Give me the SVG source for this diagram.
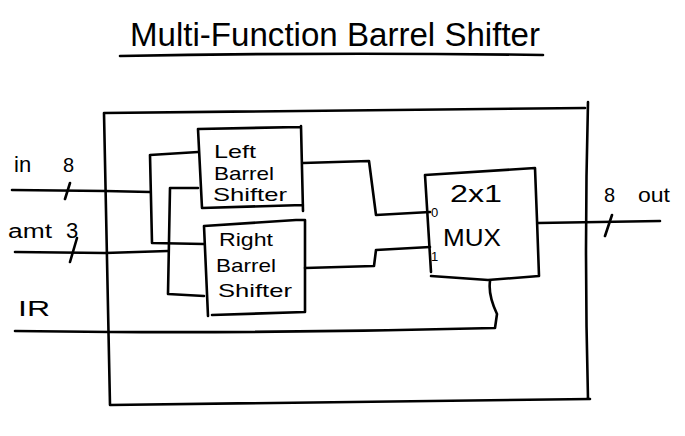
<svg xmlns="http://www.w3.org/2000/svg" width="685" height="436" viewBox="0 0 685 436">
<style>
.ln{fill:none;stroke:#000;stroke-width:2.6;stroke-linecap:round;stroke-linejoin:round}
.t{font-family:"Liberation Sans","DejaVu Sans",sans-serif;fill:#000}
.bt{font-size:19px}
.lb{font-size:22px}
.sm{font-size:13px}
</style>
<rect width="685" height="436" fill="#fff"/>
<g id="title">
<text class="t" x="130" y="46" font-size="34" textLength="410" lengthAdjust="spacingAndGlyphs">Multi-Function Barrel Shifter</text>
<path class="ln" d="M120 56 Q330 52 543 55"/>
</g>
<g id="frame">
<path class="ln" d="M104 113 L585 108 M104 113 L110 405 M588 102 Q584 250 588 399 M110 405 L590 399"/>
</g>
<g id="left-shifter">
<path class="ln" d="M198 129 L300 127 M198 129 L202 208 L303 205 M301 126 L303 211"/>
<text class="t bt" x="214" y="158" textLength="42" lengthAdjust="spacingAndGlyphs">Left</text>
<text class="t bt" x="214" y="180" textLength="60" lengthAdjust="spacingAndGlyphs">Barrel</text>
<text class="t bt" x="213" y="201" textLength="74" lengthAdjust="spacingAndGlyphs">Shifter</text>
</g>
<g id="right-shifter">
<path class="ln" d="M204 226 L296 220 L305 220 L305 312 L212 315 M204 226 L208 316"/>
<text class="t bt" x="219" y="246" textLength="54" lengthAdjust="spacingAndGlyphs">Right</text>
<text class="t bt" x="216" y="272" textLength="60" lengthAdjust="spacingAndGlyphs">Barrel</text>
<text class="t bt" x="218" y="297" textLength="74" lengthAdjust="spacingAndGlyphs">Shifter</text>
</g>
<g id="mux">
<path class="ln" d="M425 175 L535 168 L537 220 L539 276 L488 280 L431 276 M425 175 L431 272"/>
<text class="t" x="450" y="202" font-size="24" textLength="52" lengthAdjust="spacingAndGlyphs">2x1</text>
<text class="t" x="443" y="246" font-size="24" textLength="58" lengthAdjust="spacingAndGlyphs">MUX</text>
<text class="t sm" x="431" y="217">0</text>
<text class="t sm" x="431" y="261">1</text>
</g>
<g id="connectors">
<path class="ln" d="M12 190 L105 191 L150 192"/>
<path class="ln" d="M150 155 L198 152 M150 155 L152 243 L204 244"/>
<path class="ln" d="M15 252 L105 253 L168 251"/>
<path class="ln" d="M198 188 L170 188 L168 294 L204 296"/>
<path class="ln" d="M303 163 L369 161 L376 215 L430 212"/>
<path class="ln" d="M305 268 L374 266 L376 250 L430 247"/>
<path class="ln" d="M15 331 L110 332 Q300 333 495 328 L497 314 Q488 295 490 281"/>
<path class="ln" d="M538 223 L660 221"/>
<path class="ln" d="M70 183 L65 199 M77 238 L70 262 M612 215 L605 236"/>
</g>
<g id="labels">
<text class="t lb" x="14" y="172">in</text>
<text class="t" x="63" y="172" font-size="20">8</text>
<text class="t" x="8" y="238" font-size="20" textLength="44" lengthAdjust="spacingAndGlyphs">amt</text>
<text class="t" x="66" y="238" font-size="22">3</text>
<text class="t lb" x="18" y="316" textLength="32" lengthAdjust="spacingAndGlyphs">IR</text>
<text class="t" x="604" y="202" font-size="20">8</text>
<text class="t" x="638" y="202" font-size="20" textLength="32" lengthAdjust="spacingAndGlyphs">out</text>
</g>
</svg>
